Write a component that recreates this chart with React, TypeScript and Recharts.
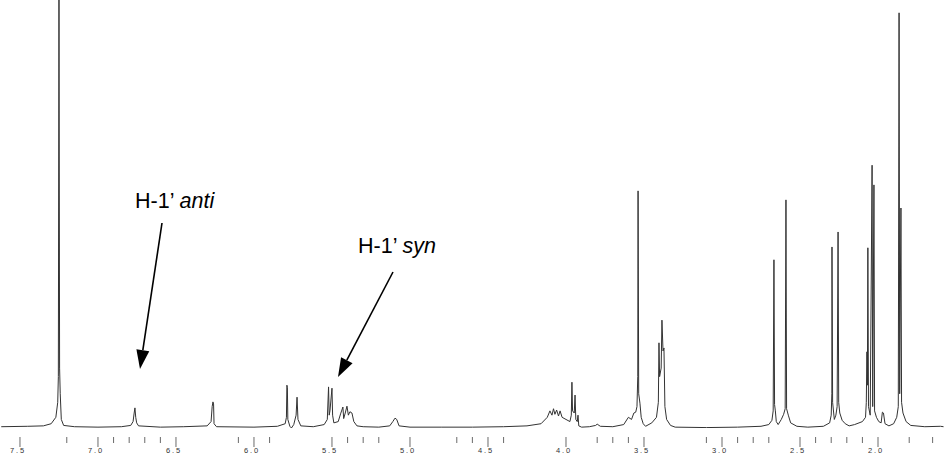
import { LineChart, Line, XAxis, YAxis } from 'recharts'

// [ppm, relative intensity %]
const regionSolvent: [number, number][] = [
  [7.62, 0.3], [7.45, 0.4], [7.35, 0.5], [7.3, 1.0], [7.27, 2.5], [7.258, 6],
  [7.254, 12], [7.25, 100], [7.246, 14], [7.242, 8], [7.235, 2], [7.22, 0.6],
  [7.15, 0.3], [7.0, 0.2], [6.85, 0.3],
]

const regionAromatic: [number, number][] = [
  [6.79, 0.6], [6.775, 1.5], [6.768, 3.5], [6.763, 4.7], [6.758, 2.5],
  [6.752, 1.2], [6.74, 0.5], [6.6, 0.2], [6.45, 0.3], [6.3, 0.5], [6.275, 1.5],
  [6.268, 5], [6.263, 6.1], [6.259, 5.6], [6.256, 1], [6.24, 0.3], [6.0, 0.2],
]

const regionAnomeric: [number, number][] = [
  [5.85, 0.4], [5.8, 1.0], [5.792, 2.5], [5.789, 10], [5.786, 9.5], [5.783, 2.0],
  [5.77, 0.4], [5.76, 0], [5.745, 0.8], [5.73, 3], [5.724, 7.2], [5.718, 2],
  [5.7, 0.5], [5.62, 0.3], [5.55, 0.8], [5.53, 2], [5.522, 9.6], [5.518, 3],
  [5.513, 4], [5.5, 9.3], [5.496, 3], [5.488, 1.2], [5.46, 1.5], [5.445, 3.3],
  [5.43, 4.9], [5.425, 2.2], [5.415, 3.5], [5.404, 5.1], [5.395, 3], [5.385, 3.8],
  [5.372, 3.5], [5.36, 1.5], [5.34, 0.5], [5.3, 0.3], [5.2, 0.2], [5.13, 0.5],
  [5.11, 1.5], [5.096, 2.3], [5.085, 2.0], [5.07, 0.5], [5.0, 0.2],
]

const regionSugar: [number, number][] = [
  [4.8, 0.2], [4.6, 0.2], [4.4, 0.3], [4.25, 0.5], [4.16, 1.0], [4.12, 2.5],
  [4.103, 4.0], [4.09, 3.0], [4.08, 4.5], [4.071, 3.2], [4.06, 4.2], [4.048, 2.8],
  [4.038, 4.0], [4.025, 2.5], [3.975, 1.5], [3.966, 3], [3.962, 10.7], [3.958, 4],
  [3.947, 3.5], [3.942, 7.7], [3.937, 2], [3.928, 1.5], [3.923, 3.0], [3.918, 0.5],
  [3.9, 0.2], [3.85, 0.3], [3.81, 0.6], [3.8, 0.9], [3.78, 0.4], [3.7, 0.3],
  [3.63, 0.8], [3.6, 2.5], [3.58, 2.0], [3.565, 3.5], [3.553, 3.7], [3.545, 5],
  [3.54, 12], [3.538, 55.4], [3.534, 8], [3.526, 5.8], [3.518, 2.5], [3.505, 1],
  [3.49, 0.4], [3.45, 1.2], [3.42, 2.5], [3.408, 6], [3.404, 19.9], [3.4, 12],
  [3.39, 14], [3.385, 25.2], [3.378, 18], [3.372, 18.7], [3.366, 5], [3.355, 2],
  [3.33, 0.6], [3.3, 0.2],
]

const regionAliphatic: [number, number][] = [
  [3.1, 0.1], [2.9, 0.2], [2.75, 0.4], [2.7, 0.8], [2.68, 1.8], [2.672, 4],
  [2.667, 39.3], [2.663, 5.5], [2.658, 4], [2.652, 1.5], [2.64, 0.8], [2.62, 2.0],
  [2.605, 3.2], [2.595, 4.5], [2.59, 53.3], [2.586, 4.5], [2.575, 3], [2.56, 1.2],
  [2.52, 0.4], [2.45, 0.2], [2.35, 0.4], [2.31, 1.2], [2.3, 3], [2.296, 8],
  [2.295, 42.3], [2.291, 6], [2.28, 2.0], [2.27, 3], [2.262, 5], [2.256, 45.8],
  [2.252, 6], [2.245, 3.5], [2.23, 1.8], [2.21, 1.0], [2.185, 0.5], [2.15, 0.8],
  [2.1, 1.5], [2.08, 2.5], [2.075, 6], [2.071, 17.8], [2.068, 10], [2.065, 42.1],
  [2.061, 5], [2.05, 3], [2.038, 61.4], [2.034, 5], [2.026, 56.8], [2.022, 4],
  [2.01, 2.5], [1.995, 1.5], [1.98, 1.2], [1.972, 3.7], [1.965, 3.5], [1.955, 1.0],
  [1.93, 0.5], [1.9, 1.0], [1.88, 2.5], [1.87, 5], [1.865, 97], [1.861, 8],
  [1.853, 51.4], [1.849, 6], [1.84, 3.5], [1.82, 1.5], [1.79, 0.6], [1.7, 0.3],
  [1.6, 0.4], [1.58, 0.3],
]

const majorTicks = [7.5, 7.0, 6.5, 6.0, 5.5, 5.0, 4.5, 4.0, 3.5, 3.0, 2.5, 2.0]
const minorTicks = [
  7.2, 6.9, 6.8, 6.7, 6.6, 6.1, 5.9, 5.4, 5.3, 5.2, 4.7, 4.6, 4.4, 3.8, 3.7, 3.6,
  3.1, 2.9, 2.8, 2.7, 2.4, 2.3, 2.2, 2.1, 1.8, 1.65,
]

const labelAnti = { prefix: 'H-1\u2019 ', italic: 'anti' }
const labelSyn = { prefix: 'H-1\u2019 ', italic: 'syn' }

const data = [
  ...regionSolvent,
  ...regionAromatic,
  ...regionAnomeric,
  ...regionSugar,
  ...regionAliphatic,
].map(([ppm, intensity]) => ({ ppm, intensity }))

const allTicks = [...majorTicks, ...minorTicks].sort((a, b) => b - a)

function PpmTick(props: any) {
  const { x, y, payload } = props
  const v = payload.value as number
  const major = majorTicks.includes(v)
  return (
    <g>
      <line
        x1={x}
        x2={x}
        y1={y + 9}
        y2={major ? y + 19 : y + 15}
        stroke="#444"
        strokeWidth={0.8}
      />
      {major && (
        <text
          x={x - 2}
          y={y + 25}
          textAnchor="middle"
          fontSize={7.5}
          letterSpacing={1.8}
          fill="#333"
          fontFamily="Liberation Sans, Arial, sans-serif"
        >
          {v.toFixed(1)}
        </text>
      )}
    </g>
  )
}

function Arrow({ x1, y1, x2, y2 }: { x1: number; y1: number; x2: number; y2: number }) {
  const dx = x2 - x1
  const dy = y2 - y1
  const len = Math.sqrt(dx * dx + dy * dy)
  const ux = dx / len
  const uy = dy / len
  const head = 19
  const half = 6.5
  const bx = x2 - ux * head
  const by = y2 - uy * head
  const pts = `${x2},${y2} ${bx - uy * half},${by + ux * half} ${bx + uy * half},${by - ux * half}`
  return (
    <g>
      <line x1={x1} y1={y1} x2={bx} y2={by} stroke="#000" strokeWidth={1.6} />
      <polygon points={pts} fill="#000" />
    </g>
  )
}

export default function App() {
  return (
    <div style={{ position: 'relative', width: 944, height: 454, background: '#fff' }}>
      <style>{'body{margin:0}'}</style>
      <LineChart
        width={944}
        height={454}
        data={data}
        margin={{ top: 0, right: 0, left: 0, bottom: 0 }}
      >
        <XAxis
          dataKey="ppm"
          type="number"
          domain={[1.577, 7.628]}
          reversed
          allowDataOverflow
          ticks={allTicks}
          interval={0}
          height={26}
          tickSize={0}
          tickMargin={0}
          tickLine={false}
          axisLine={false}
          tick={<PpmTick />}
        />
        <YAxis hide domain={[0, 100]} allowDataOverflow />
        <Line
          dataKey="intensity"
          type="linear"
          stroke="#333"
          strokeWidth={1}
          dot={false}
          activeDot={false}
          isAnimationActive={false}
        />
      </LineChart>
      <svg
        width={944}
        height={454}
        style={{ position: 'absolute', left: 0, top: 0, pointerEvents: 'none' }}
      >
        <text
          x={135}
          y={208}
          fontSize={21.5}
          fill="#000"
          fontFamily="Liberation Sans, Arial, sans-serif"
        >
          {labelAnti.prefix}
          <tspan fontStyle="italic">{labelAnti.italic}</tspan>
        </text>
        <Arrow x1={162} y1={223} x2={140} y2={369} />
        <text
          x={358}
          y={253}
          fontSize={21.5}
          fill="#000"
          fontFamily="Liberation Sans, Arial, sans-serif"
        >
          {labelSyn.prefix}
          <tspan fontStyle="italic">{labelSyn.italic}</tspan>
        </text>
        <Arrow x1={393} y1={272} x2={338} y2={377} />
      </svg>
    </div>
  )
}
